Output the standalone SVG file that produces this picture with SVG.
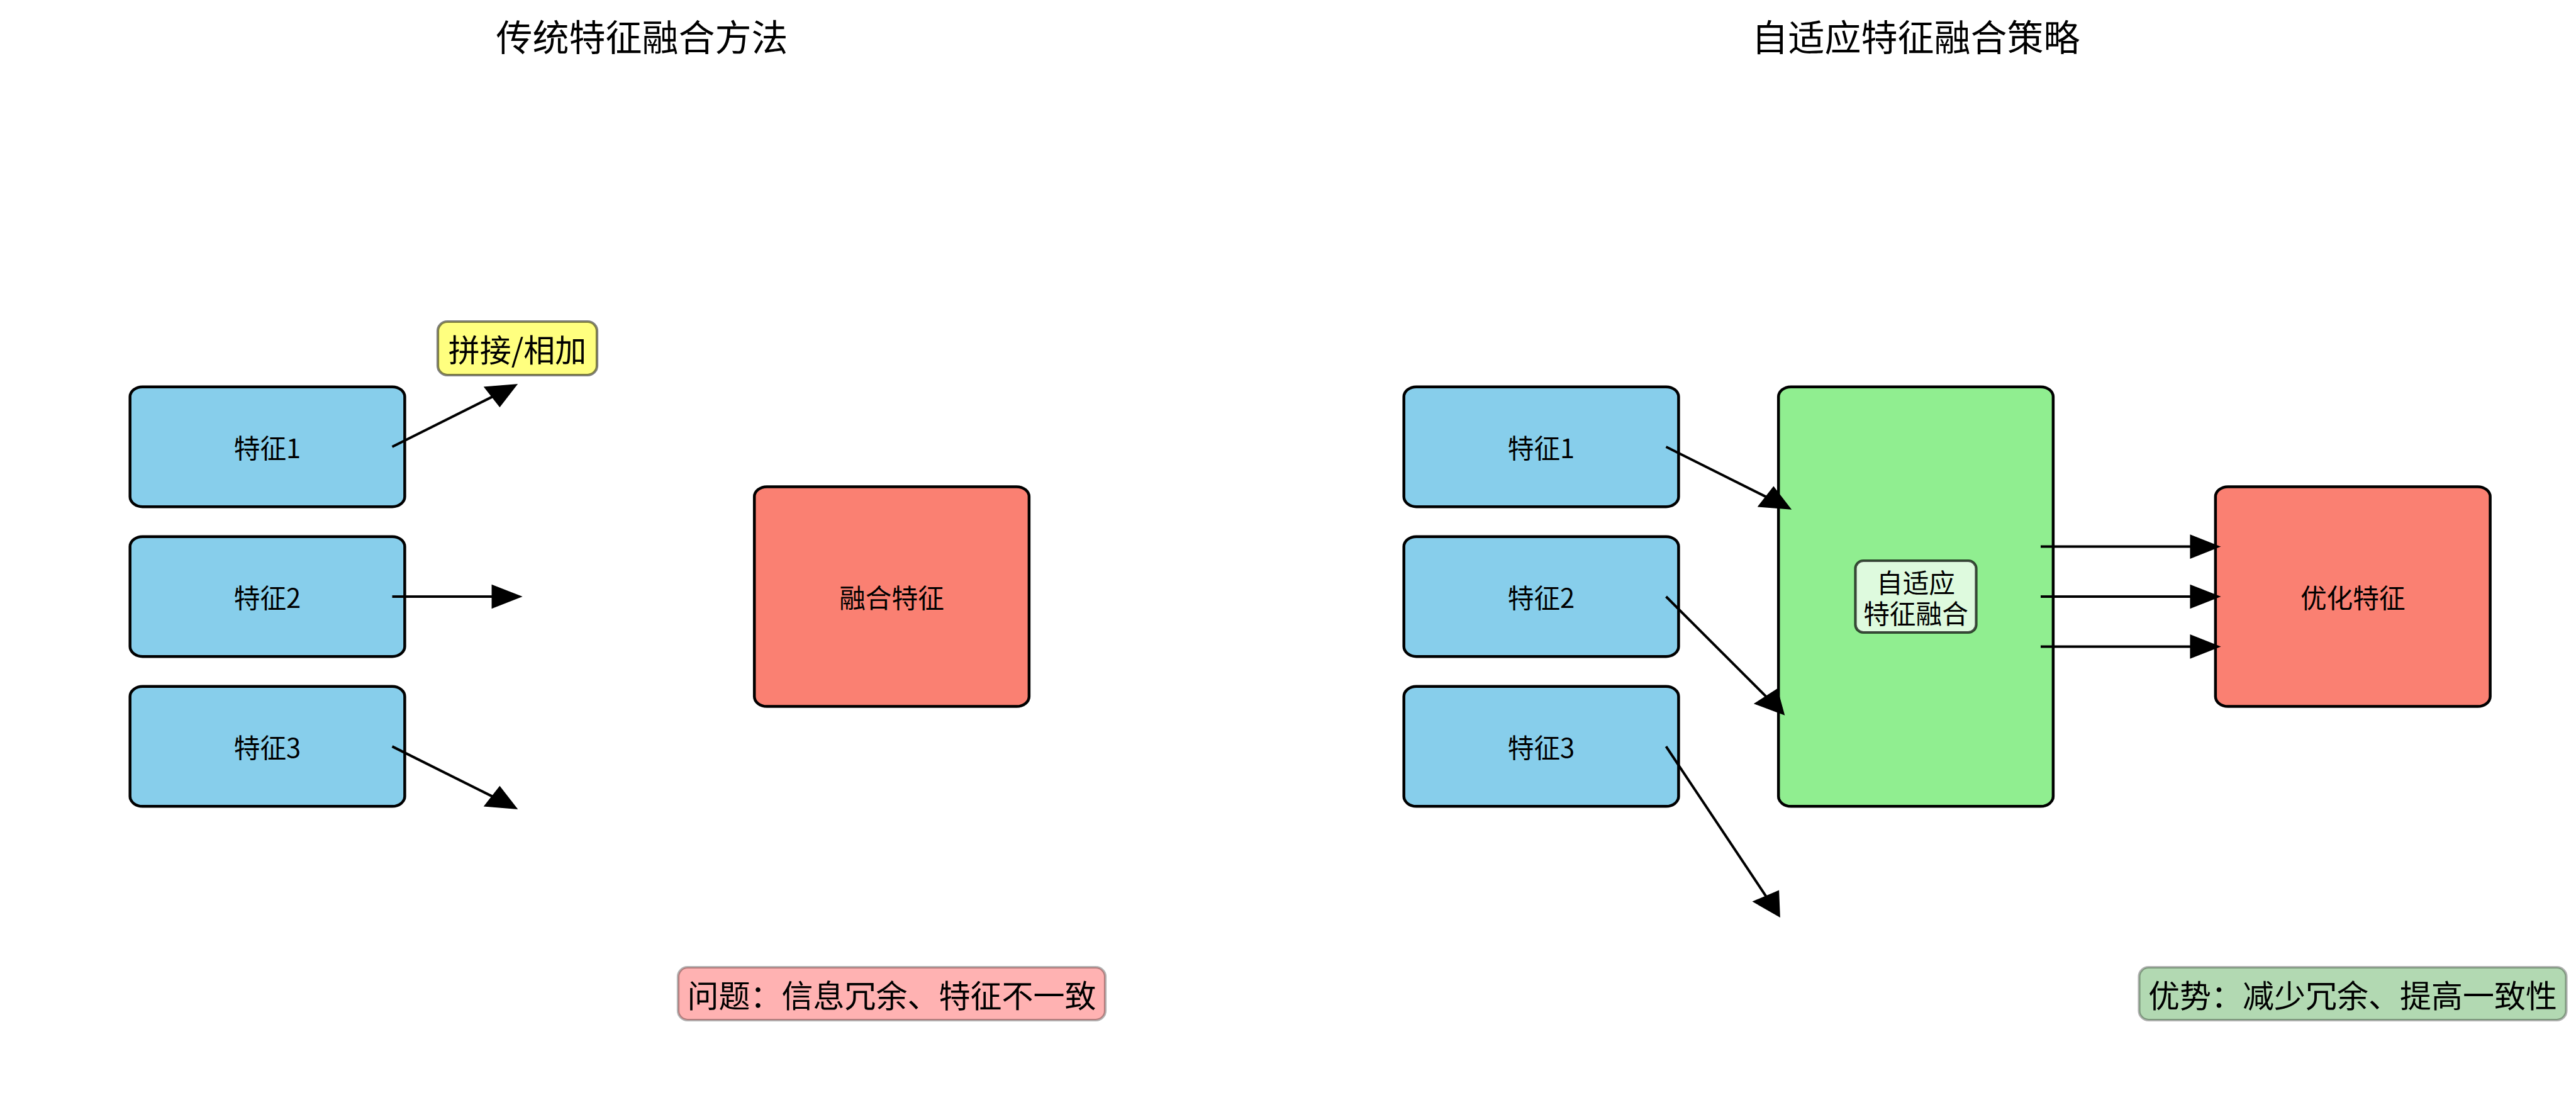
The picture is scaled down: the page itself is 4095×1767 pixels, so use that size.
<svg xmlns="http://www.w3.org/2000/svg" width="4095" height="1767" viewBox="0 0 4095 1767">
<style>
text{font-family:"Noto Sans CJK SC","Noto Sans",sans-serif;fill:#000;text-anchor:middle}
.title{font-size:58px}
.lbl{font-size:41.7px;dominant-baseline:central}
.big{font-size:50px;dominant-baseline:central}
.feat{fill:#87CEEB;stroke:#000;stroke-width:4.5}
.out{fill:#FA8072;stroke:#000;stroke-width:4.5}
.ada{fill:#90EE90;stroke:#000;stroke-width:4.5}
.shaft{stroke:#000;stroke-width:4;fill:none}
.head{fill:#000;stroke:#000;stroke-width:1.5;stroke-linejoin:miter}
</style>
<rect width="4095" height="1767" fill="#fff"/>
<text class="title" x="1020.5" y="81">传统特征融合方法</text>
<text class="title" x="3045.5" y="81">自适应特征融合策略</text>

<g id="left-feature1"><rect class="feat" x="206.7" y="614.7" width="436.7" height="190.5" rx="19.9" ry="15.9"/><text class="lbl" x="425" y="710">特征1</text></g>
<g id="left-feature2"><rect class="feat" x="206.7" y="852.7" width="436.7" height="190.5" rx="19.9" ry="15.9"/><text class="lbl" x="425" y="948">特征2</text></g>
<g id="left-feature3"><rect class="feat" x="206.7" y="1090.8" width="436.7" height="190.5" rx="19.9" ry="15.9"/><text class="lbl" x="425" y="1186">特征3</text></g>
<g id="fused"><rect class="out" x="1199.2" y="773.4" width="436.7" height="349.2" rx="19.9" ry="15.9"/><text class="lbl" x="1417.5" y="948">融合特征</text></g>

<g id="right-feature1"><rect class="feat" x="2231.7" y="614.7" width="436.7" height="190.5" rx="19.9" ry="15.9"/><text class="lbl" x="2450" y="710">特征1</text></g>
<g id="right-feature2"><rect class="feat" x="2231.7" y="852.7" width="436.7" height="190.5" rx="19.9" ry="15.9"/><text class="lbl" x="2450" y="948">特征2</text></g>
<g id="right-feature3"><rect class="feat" x="2231.7" y="1090.8" width="436.7" height="190.5" rx="19.9" ry="15.9"/><text class="lbl" x="2450" y="1186">特征3</text></g>
<g id="adaptive"><rect class="ada" x="2827.2" y="614.7" width="436.7" height="666.6" rx="19.9" ry="15.9"/></g>
<g id="optimized"><rect class="out" x="3521.9" y="773.4" width="436.7" height="349.2" rx="19.9" ry="15.9"/><text class="lbl" x="3740.3" y="948">优化特征</text></g>

<g id="connectors">
<line class="shaft" x1="623.5" y1="710" x2="782.3" y2="630.6"/>
<polygon class="head" points="821.6,611 770.2,615.1 794.4,646.1"/>
<line class="shaft" x1="623.5" y1="948" x2="782.3" y2="948"/>
<polygon class="head" points="828.6,948 782.3,929.75 782.3,966.25"/>
<line class="shaft" x1="623.5" y1="1186.1" x2="782.3" y2="1265.4"/>
<polygon class="head" points="821.6,1285 794.4,1249.9 770.2,1280.9"/>

<line class="shaft" x1="2648.5" y1="710" x2="2807.3" y2="789.4"/>
<polygon class="head" points="2846.6,808.9 2819.4,773.8 2795.2,804.8"/>
<line class="shaft" x1="2648.5" y1="948" x2="2807.3" y2="1106.7"/>
<polygon class="head" points="2836.2,1135.6 2825.1,1095.3 2789.5,1118.1"/>
<line class="shaft" x1="2648.5" y1="1186.1" x2="2807.3" y2="1424.1"/>
<polygon class="head" points="2829.1,1456.7 2827.4,1415.5 2787.2,1432.7"/>

<line class="shaft" x1="3244" y1="868.6" x2="3482.2" y2="868.6"/>
<polygon class="head" points="3528.5,868.6 3482.2,850.35 3482.2,886.85"/>
<line class="shaft" x1="3244" y1="948" x2="3482.2" y2="948"/>
<polygon class="head" points="3528.5,948 3482.2,929.75 3482.2,966.25"/>
<line class="shaft" x1="3244" y1="1027.4" x2="3482.2" y2="1027.4"/>
<polygon class="head" points="3528.5,1027.4 3482.2,1009.15 3482.2,1045.65"/>
</g>

<g id="adaptive-label"><rect x="2949.5" y="891" width="192" height="114" rx="12.5" fill="rgba(255,255,255,0.7)" stroke="rgba(0,0,0,0.7)" stroke-width="4.2"/><text class="lbl" x="3045.5" y="924"><tspan x="3045.5" y="924">自适应</tspan><tspan x="3045.5" y="973">特征融合</tspan></text></g>
<g id="concat-label"><rect x="696" y="511" width="253" height="85" rx="15" fill="rgba(255,255,0,0.5)" stroke="rgba(0,0,0,0.5)" stroke-width="4.2"/><text class="big" x="822.5" y="553">拼接/相加</text></g>
<g id="problem-label"><rect x="1078" y="1537" width="679" height="84" rx="15" fill="rgba(255,0,0,0.3)" stroke="rgba(0,0,0,0.3)" stroke-width="4.2"/><text class="big" x="1417.5" y="1579">问题：信息冗余、特征不一致</text></g>
<g id="advantage-label"><rect x="3400.5" y="1537" width="679" height="84" rx="15" fill="rgba(0,128,0,0.3)" stroke="rgba(0,0,0,0.3)" stroke-width="4.2"/><text class="big" x="3740" y="1579">优势：减少冗余、提高一致性</text></g>
</svg>
